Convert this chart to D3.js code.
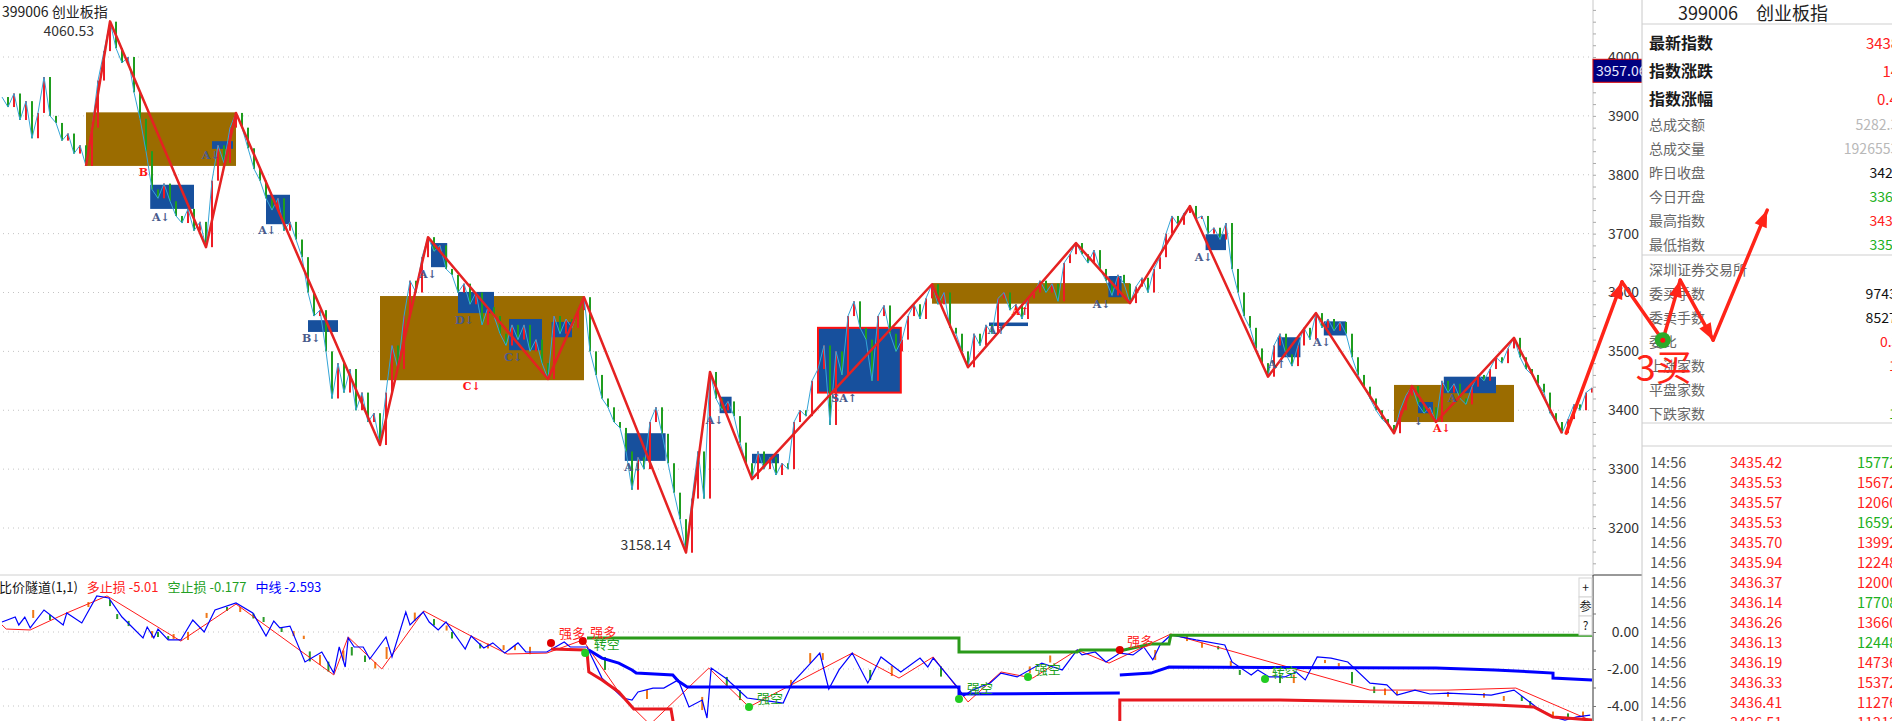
<!DOCTYPE html>
<html>
<head>
<meta charset="utf-8">
<script src="https://cdn.jsdelivr.net/npm/d3@7"></script>
<style>
  body { margin: 0; background: #fff; overflow: hidden; }
  svg { display: block; }
</style>
</head>
<body>
<svg id="chart"></svg>
<script>
const width = 1892, height = 721;
const axisX = 1593, panelX = 1642, mainBottom = 575;
const FONT = '"Noto Sans CJK SC", "Noto Sans", sans-serif';
const UP = '#ee1c25', DOWN = '#1f9d1f';

// ---- main chart data (one close per bar) ----
const closes = [
  3932,3915,3938,3893,3925,3862,3905,3966,3900,3888,3858,3870,3836,3850,3815,3880,3960,4010,4060,4015,
  3990,4000,3940,3895,3840,3775,3760,3785,3755,3730,3718,3742,3705,3720,3677,3790,3850,3820,3880,3905,
  3880,3845,3810,3790,3760,3740,3760,3705,3720,3690,3660,3600,3560,3570,3500,3420,3480,3430,3470,3400,
  3430,3380,3395,3341,3430,3510,3470,3560,3620,3600,3660,3694,3670,3680,3640,3630,3600,3615,3580,3600,
  3545,3575,3560,3530,3510,3545,3520,3545,3500,3520,3480,3453,3560,3530,3555,3540,3570,3592,3500,3460,
  3420,3405,3380,3370,3330,3265,3320,3300,3380,3405,3360,3310,3260,3215,3158,3250,3330,3250,3465,3420,
  3400,3415,3390,3345,3310,3283,3330,3300,3320,3290,3310,3300,3380,3400,3390,3450,3470,3510,3375,3500,
  3460,3560,3585,3540,3520,3450,3560,3578,3530,3500,3520,3560,3580,3555,3590,3614,3580,3600,3540,3530,
  3500,3473,3530,3510,3545,3530,3590,3600,3570,3580,3555,3590,3600,3620,3600,3615,3585,3650,3665,3684,
  3665,3650,3672,3640,3620,3595,3630,3615,3582,3610,3625,3600,3640,3660,3700,3730,3715,3735,3747,3725,
  3730,3700,3710,3690,3718,3640,3600,3560,3540,3505,3480,3457,3510,3530,3495,3475,3510,3540,3520,3565,
  3540,3555,3535,3550,3530,3490,3460,3440,3420,3400,3385,3375,3361,3400,3425,3441,3410,3395,3405,3380,
  3450,3430,3445,3420,3410,3440,3460,3450,3470,3490,3480,3505,3523,3490,3470,3460,3445,3430,3395,3380,
  3361,3385,3410,3400,3430,3438
];

// red zigzag pivots (bar index, price)
const zigIdx = [14,18,34,39,63,71,91,97,114,118,125,155,161,179,188,198,211,219,232,235,239,252,260];
const zigVal = [3815,4060.53,3677,3905,3341,3694,3453,3592,3158.14,3465,3283,3614,3473,3684,3582,3747,3457,3565,3361,3441,3380,3523,3361];

// brown zones
const zoneX0 = [14, 63, 155, 232];
const zoneX1 = [39, 97, 188, 252];
const zoneHi = [3906, 3594, 3616, 3443];
const zoneLo = [3815, 3451, 3581, 3380];

// blue boxes
const boxX0 = [24.7,35,44,51,71.5,76,84.5,91.6,103.8,119.6,125,136,164.5,184.4,200.6,212.6,220.3,236,240.3];
const boxX1 = [32,38.5,48,56,74.2,82,90,95,110.6,121.6,129.5,149.8,171,186.6,204,216.4,224,238.5,249];
const boxHi = [3783,3857,3766,3553,3684,3601,3555,3550,3361,3423,3326,3540,3549,3628,3699,3524,3551,3414,3457];
const boxLo = [3742,3844,3716,3533,3643,3565,3502,3524,3314,3395,3310,3430,3543,3592,3672,3490,3527,3395,3429];
const framedBox = 11;

// signal letters
const markIdx = [22.8,25,33.3,42.7,50,69.5,75.5,83.7,76.8,103.7,117.3,138.2,164.3,168.3,181.8,198.8,211,218.5,235.3,241,238.5];
const markVal = [3805,3728,3834,3706,3523,3631,3553,3490,3441,3304,3384,3421,3536,3569,3581,3660,3479,3516,3382,3421,3370];
const markText = ['B','A↓','A↓','A↓','B↓','A↓','D↓','C↓','C↓','A↓','A↓','SA↑','A↑','A↑','A↓','A↓','A↑','A↓','↓','A','A↓'];
const markRed = [1,0,0,0,0,0,0,0,1,0,0,0,0,1,0,0,0,0,0,0,1];

// hand drawn arrow (bar index, price)
const annoIdx = [260.7, 270, 276.8, 279.7, 285.2, 294.2];
const annoVal = [3361, 3618, 3519, 3621, 3519, 3740];

// ---- indicator data ----
const ratioIdx = [0,2.2,2.8,3.8,4.7,7,10.2,10.8,13.3,15.8,17.8,20,23.5,24.2,25.3,26,27.7,29.8,31.8,33.7,35.5,39,41.8,44,45.3,46.3,48,50.5,53.3,55.3,56.2,57.2,57.7,58.7,60.2,61.3,64,65,67.3,68,70.2,71.2,72.7,74,77.2,78.2,80.3,81.8,83.8,86,87.3,90.8,93.7,94.7,97.5,100,103.5,105,106,108.5,110.3,112.7,114.5,116.7,117.5,118.2,120.8,121.5,124.2,130.2,131.7,134.2,136.3,137.8,139.5,141.7,144.3,146.5,149.8,153,154.3,155.2,159.2,160.3,161.7,164.7,166.5,169.2,173.3,175.2,176.7,179.2,180,182.2,184,186.3,188.5,190.3,191.8,193,194.8,199,203.8,205,208.2,209.3,211.2,213.8,215.7,217.2,219.2,221.5,224.3,228,230.8,232.5,235.5,238,241,248.2,252,255.7,258.5,260.5,262.5,264.7];
const ratioVal = [0.54,0.81,0.38,0.81,0.22,1.19,0.38,1.03,0.49,1.95,1.84,0.81,-0.32,0.27,-0.32,0.16,-0.43,-0.43,0.65,0,1.19,1.57,1.03,-0.22,0.59,0.22,0.32,-1.62,-1.08,-2.22,-0.81,-1.89,-0.32,-0.81,-0.81,-1.46,-0.27,-1.35,1.08,0.38,1.08,0.54,0.11,0.54,-0.92,-0.22,-0.86,-0.59,-1.14,-0.59,-1.08,-1.08,-0.54,-0.81,-0.81,-2.49,-3.57,-3.68,-3.24,-3.03,-3.03,-2.59,-4.05,-3.68,-4.65,-1.95,-2.54,-2.76,-3.57,-3.84,-2.76,-1.89,-1.14,-3.08,-2.05,-1.14,-2.76,-1.35,-2.16,-1.41,-1.89,-1.41,-2.97,-3.46,-3.14,-2.76,-2.22,-2.43,-1.68,-1.89,-2.05,-0.97,-1.24,-1.08,-1.62,-1.14,-1.24,-0.81,-1.51,-0.70,-0.16,-0.43,-0.70,-1.62,-2.32,-2.05,-2.43,-2.43,-2.16,-2.59,-1.35,-1.41,-1.62,-2.76,-2.86,-3.41,-3.14,-3.35,-3.30,-3.41,-3.14,-4.05,-4.59,-4.76,-4.59,-4.49];

// small ratio candles (index, open, close)
const miniIdx = [5.2,8,14.4,18,19.2,21.1,25,26,27.7,28.6,31,34.1,37.5,39.7,41.9,43.6,46.6,48.6,50.3,51.3,53,54.4,56.9,58.3,60.5,62.2,64.1,68.8,72,74.1,75,79.7,81,83.6,85.5,88,100.5,107.5,116.7,120.8,123,131.5,134.7,136.8,144.7,148.3,156.5,171.3,174.7,192.2,197.5,200,202.7,204.8,206.3,213,215.3,220.5,222.8,225,228.7,230.5,232.5,241,247,250.3,253.3,254.7,258.5,261,263.5];
const miniOpen = [0.76,0.92,1.35,1.73,0.97,0.60,-0.30,0.0,-0.22,-0.38,-0.43,0.76,1.35,1.08,1.00,0.81,0.27,-0.22,-0.38,-1.05,-1.78,-1.60,-1.54,-0.81,-1.27,-1.97,-1.46,0.60,0.70,0.08,0.0,-0.62,-0.89,-0.98,-0.98,-1.2,-1.35,-3.62,-4.22,-2.43,-3.14,-2.97,-1.68,-1.51,-2.05,-2.38,-1.86,-2.22,-1.65,-1.51,-0.49,-0.85,-0.76,-1.84,-2.05,-2.30,-2.76,-1.68,-1.86,-2.16,-2.95,-3.41,-3.41,-3.5,-3.55,-3.73,-3.46,-3.73,-4.6,-4.4,-4.6];
const miniClose = [1.19,0.65,1.62,1.40,0.70,0.32,0.05,-0.27,-0.40,-0.11,0.0,1.03,1.14,1.35,0.73,0.54,0.0,0.05,-0.20,-1.59,-1.24,-2.14,-1.0,-1.27,-1.62,-1.62,-0.81,1.05,0.35,0.35,-0.35,-0.89,-0.62,-0.71,-0.71,-0.8,-2.05,-3.14,-3.51,-2.97,-3.68,-2.59,-1.14,-1.14,-2.59,-1.84,-2.41,-1.86,-1.27,-0.97,-0.11,-0.57,-0.94,-1.57,-2.32,-2.76,-2.30,-1.51,-1.68,-2.78,-3.3,-3.05,-3.2,-3.24,-3.3,-3.46,-3.73,-4.0,-4.3,-4.7,-4.3];

const pivIdx = [0,0.7,4.7,10.8,17.5,29.8,39,55.3,57.7,63.3,70.3,78.2,84.2,90.8,96.8,103.5,108,117.8,124.5,141.7,149.5,155.2,161,166.5,171.8,179.2,184.5,194.8,228,241,252.3,265];
const pivVal = [0.38,0.16,0.11,1.03,1.95,-0.49,1.51,-2.32,-0.27,-2.0,1.14,-0.22,-1.19,-1.14,-0.43,-3.57,-5.0,-1.95,-4.05,-1.14,-2.49,-1.35,-3.78,-2.16,-2.49,-0.97,-1.68,-0.11,-3.14,-3.14,-3.03,-4.81];

const longIdx = [91.5,97.2,97.5,97.8,100,102.8,105.3,111.5,112.7,186.3,186.3,213,239,248.8,255.3,258.5,265];
const longVal = [-0.92,-0.97,-1.08,-2.16,-2.59,-3.24,-4.16,-4.16,-6.5,-6.5,-3.68,-3.68,-3.84,-3.95,-4.05,-4.59,-4.76];

const shortIdx = [97.5,159.5,159.5,179.2,179.7,187,191.5,194.5,194.8,265];
const shortVal = [-0.32,-0.32,-1.08,-1.08,-0.97,-0.97,-0.65,-0.65,-0.177,-0.177];

const midIdx = [97.8,100,102.8,105,105.7,111.8,112.7,114.2,159.5,159.5,186.3,186.3,186.3,191.5,194.5,239,248.8,255.3,258.5,258.5,265];
const midVal = [-0.97,-1.41,-1.68,-2.05,-2.22,-2.32,-2.65,-2.97,-2.97,-3.35,-3.30,null,-2.32,-2.22,-1.89,-1.95,-2.05,-2.16,-2.22,-2.49,-2.593];

const dotIdx = [91.5,96.8,97.2,124.5,159.5,171,186.3,210.5];
const dotVal = [-0.59,-0.49,-1.14,-4.05,-3.62,-2.43,-0.97,-2.54];
const dotSide = ['多','多','空','空','空','空','多','空'];

const tagIdx = [95,100.2,100.8,128,163,174.3,189.7,213.8];
const tagVal = [-0.05,0,-0.65,-3.57,-3.03,-2.0,-0.49,-2.16];
const tagText = ['强多','强多','转空','强空','强空','强空','强多','转空'];

const legendText = ['比价隧道(1,1)', '多止损 -5.01', '空止损 -0.177', '中线 -2.593'];

// ---- quote panel data ----
const infoLabels = ['最新指数','指数涨跌','指数涨幅','总成交额','总成交量','昨日收盘','今日开盘','最高指数','最低指数'];
const infoValues = ['3438.51','14.26','0.42%','5282.36亿','19265538万','3424.25','3367.83','3438.86','3359.17'];
const infoKind = ['up','up','up','vol','vol','flat','down','up','down'];
const bookLabels = ['深圳证券交易所','委买手数','委卖手数','委比','上涨家数','平盘家数','下跌家数'];
const bookValues = ['','9743625','8527410','0.33%','1024','','1195'];
const bookKind = ['flat','flat','flat','up','up','flat','down'];
const tradeTimes = ['14:56','14:56','14:56','14:56','14:56','14:56','14:56','14:56','14:56','14:56','14:56','14:56','14:56','14:56'];
const tradePrices = ['3435.42','3435.53','3435.57','3435.53','3435.70','3435.94','3436.37','3436.14','3436.26','3436.13','3436.19','3436.33','3436.41','3436.51'];
const tradeVols = ['157724','156726','120608','165921','139920','122486','120003','177085','136602','124481','147363','153727','112764','112132'];
const tradeSide = ['S','B','B','S','B','B','B','S','B','S','B','B','B','B'];

// ---- scales ----
const x = d3.scaleLinear().domain([0, closes.length - 1]).range([2, 1592]);
const y = d3.scaleLinear().domain([3200, 4000]).range([528, 57]);
const yi = d3.scaleLinear().domain([-4, 0]).range([706, 632]);

const svg = d3.select('#chart')
  .attr('width', width)
  .attr('height', height)
  .attr('font-family', FONT);

const defs = svg.append('defs');
defs.append('clipPath').attr('id', 'clipMain')
  .append('rect').attr('x', 0).attr('y', 0).attr('width', axisX).attr('height', mainBottom);
defs.append('clipPath').attr('id', 'clipInd')
  .append('rect').attr('x', 0).attr('y', mainBottom + 1).attr('width', axisX).attr('height', height - mainBottom - 1);

// grid
svg.append('g').selectAll('line')
  .data(d3.range(3200, 4001, 100))
  .join('line')
  .attr('x1', 3).attr('x2', axisX)
  .attr('y1', d => y(d)).attr('y2', d => y(d))
  .attr('stroke', '#c4c4c4').attr('stroke-dasharray', '1,4');

svg.append('g').selectAll('line')
  .data([0, -2, -4])
  .join('line')
  .attr('x1', 3).attr('x2', axisX)
  .attr('y1', d => yi(d)).attr('y2', d => yi(d))
  .attr('stroke', '#c4c4c4').attr('stroke-dasharray', '1,4');

// ---- main panel ----
const main = svg.append('g').attr('clip-path', 'url(#clipMain)');

main.append('g').selectAll('rect')
  .data(zoneX0)
  .join('rect')
  .attr('x', (d, i) => x(d))
  .attr('width', (d, i) => x(zoneX1[i]) - x(d))
  .attr('y', (d, i) => y(zoneHi[i]))
  .attr('height', (d, i) => y(zoneLo[i]) - y(zoneHi[i]))
  .attr('fill', '#9b6c00');

main.append('g').selectAll('rect')
  .data(boxX0)
  .join('rect')
  .attr('x', (d, i) => x(d))
  .attr('width', (d, i) => x(boxX1[i]) - x(d))
  .attr('y', (d, i) => y(boxHi[i]))
  .attr('height', (d, i) => Math.max(3, y(boxLo[i]) - y(boxHi[i])))
  .attr('fill', '#17509d')
  .attr('stroke', (d, i) => i === framedBox ? '#ff1010' : 'none')
  .attr('stroke-width', 2);

// candles: open = previous close
main.append('g').selectAll('rect')
  .data(d3.range(1, closes.length))
  .join('rect')
  .attr('x', i => x(i) - 1)
  .attr('width', 2)
  .attr('y', i => y(Math.max(closes[i], closes[i - 1])))
  .attr('height', i => Math.max(1, Math.abs(y(closes[i]) - y(closes[i - 1]))))
  .attr('fill', i => closes[i] >= closes[i - 1] ? UP : DOWN);

main.append('path')
  .datum(closes)
  .attr('fill', 'none')
  .attr('stroke', '#35a5d8')
  .attr('stroke-width', 1)
  .attr('d', d3.line().x((d, i) => x(i)).y(d => y(d)));

main.append('path')
  .datum(zigIdx)
  .attr('fill', 'none')
  .attr('stroke', '#e52222')
  .attr('stroke-width', 2.5)
  .attr('stroke-linejoin', 'round')
  .attr('d', d3.line().x(d => x(d)).y((d, i) => y(zigVal[i])));

main.append('g').selectAll('text')
  .data(markText)
  .join('text')
  .attr('x', (d, i) => x(markIdx[i]))
  .attr('y', (d, i) => y(markVal[i]) + 4)
  .attr('font-family', '"DejaVu Serif", serif')
  .attr('font-weight', 'bold')
  .attr('font-size', 11)
  .attr('fill', (d, i) => markRed[i] ? '#ff1414' : '#4a5b8c')
  .text(d => d);

// high / low labels
const hiI = closes.indexOf(d3.max(closes));
const loI = closes.indexOf(d3.min(closes));
svg.append('text')
  .attr('x', x(hiI) - 16).attr('y', y(zigVal[1]) + 15)
  .attr('text-anchor', 'end').attr('font-size', 14).attr('fill', '#333')
  .text(zigVal[1].toFixed(2));
svg.append('text')
  .attr('x', x(loI) - 15).attr('y', y(zigVal[8]) - 3)
  .attr('text-anchor', 'end').attr('font-size', 14).attr('fill', '#333')
  .text(zigVal[8].toFixed(2));

svg.append('text')
  .attr('x', 2).attr('y', 17)
  .attr('font-size', 14).attr('fill', '#222')
  .text('399006 创业板指');

// ---- indicator panel ----
const ind = svg.append('g').attr('clip-path', 'url(#clipInd)');

ind.append('g').selectAll('rect')
  .data(miniIdx)
  .join('rect')
  .attr('x', d => x(d) - 1)
  .attr('width', 2)
  .attr('y', (d, i) => yi(Math.max(miniOpen[i], miniClose[i])))
  .attr('height', (d, i) => Math.max(1, Math.abs(yi(miniOpen[i]) - yi(miniClose[i]))))
  .attr('fill', (d, i) => miniClose[i] >= miniOpen[i] ? '#f07818' : '#2a9a2a');

ind.append('path')
  .datum(pivIdx)
  .attr('fill', 'none').attr('stroke', '#ff1a1a').attr('stroke-width', 1)
  .attr('d', d3.line().x(d => x(d)).y((d, i) => yi(pivVal[i])));

ind.append('path')
  .datum(ratioIdx)
  .attr('fill', 'none').attr('stroke', '#0000ff').attr('stroke-width', 1.2)
  .attr('d', d3.line().x(d => x(d)).y((d, i) => yi(ratioVal[i])));

const stepLine = (idx, vals, color) => ind.append('path')
  .datum(idx.map((d, i) => [d, vals[i]]))
  .attr('fill', 'none').attr('stroke', color).attr('stroke-width', 3)
  .attr('d', d3.line().defined(d => d[1] !== null).x(d => x(d[0])).y(d => yi(d[1])));

stepLine(shortIdx, shortVal, '#2a9a1a');
stepLine(midIdx, midVal, '#0000ff');
stepLine(longIdx, longVal, '#e8191f');

ind.append('g').selectAll('circle')
  .data(dotIdx)
  .join('circle')
  .attr('cx', d => x(d))
  .attr('cy', (d, i) => yi(dotVal[i]))
  .attr('r', 4)
  .attr('fill', (d, i) => dotSide[i] === '多' ? '#e00000' : '#22cc22');

ind.append('g').selectAll('text')
  .data(tagText)
  .join('text')
  .attr('x', (d, i) => x(tagIdx[i]))
  .attr('y', (d, i) => yi(tagVal[i]) + 5)
  .attr('text-anchor', 'middle')
  .attr('font-size', 13)
  .attr('fill', d => d === '强多' ? '#ff2020' : '#22a022')
  .text(d => d);

// legend
const legendColors = ['#111', '#ff2020', '#22a022', '#0000ff'];
let lx = -1;
legendText.forEach((t, i) => {
  const el = svg.append('text')
    .attr('x', lx).attr('y', 592)
    .attr('font-size', 13).attr('fill', legendColors[i])
    .text(t);
  lx += el.node().getComputedTextLength() + 9;
});

// separators and axis lines
svg.append('line').attr('x1', 0).attr('x2', axisX).attr('y1', mainBottom).attr('y2', mainBottom).attr('stroke', '#d0d0d0');
svg.append('line').attr('x1', axisX).attr('x2', panelX).attr('y1', mainBottom).attr('y2', mainBottom).attr('stroke', '#333');
svg.append('line').attr('x1', axisX).attr('x2', axisX).attr('y1', 0).attr('y2', mainBottom).attr('stroke', '#c8c8c8');
svg.append('line').attr('x1', axisX).attr('x2', axisX).attr('y1', mainBottom).attr('y2', height).attr('stroke', '#333');

// price axis
const yAxis = d3.axisRight(y)
  .tickValues(d3.range(3140, 4100, 20))
  .tickSize(3)
  .tickFormat(d => d % 100 === 0 ? d : '');
const gy = svg.append('g')
  .attr('transform', `translate(${axisX},0)`)
  .call(yAxis)
  .attr('font-family', FONT).attr('font-size', 14);
gy.select('.domain').remove();
gy.selectAll('line').attr('stroke', '#aaa');
gy.selectAll('text').attr('x', 46).attr('text-anchor', 'end').attr('fill', '#333');

const iAxis = d3.axisRight(yi)
  .tickValues([1, 0, -1, -2, -3, -4])
  .tickSize(3)
  .tickFormat(d => d % 2 === 0 ? d.toFixed(2) : '');
const gi = svg.append('g')
  .attr('transform', `translate(${axisX},0)`)
  .call(iAxis)
  .attr('font-family', FONT).attr('font-size', 14);
gi.select('.domain').remove();
gi.selectAll('line').attr('stroke', '#777');
gi.selectAll('text').attr('x', 46).attr('text-anchor', 'end').attr('fill', '#333');

// small buttons
['+', '参', '?'].forEach((t, i) => {
  svg.append('rect').attr('x', 1579).attr('y', 578 + i * 19).attr('width', 13).attr('height', 19)
    .attr('fill', '#fff').attr('stroke', '#d4d4d4');
  svg.append('text').attr('x', 1585.5).attr('y', 592 + i * 19)
    .attr('text-anchor', 'middle').attr('font-size', 12).attr('fill', '#222').text(t);
});

// last price tag
const lastTag = 3957.06;
svg.append('rect')
  .attr('x', axisX).attr('y', y(lastTag) - 23)
  .attr('width', panelX - axisX + 4).attr('height', 23)
  .attr('fill', '#000080').attr('stroke', '#e00000');
svg.append('text')
  .attr('x', axisX + 3).attr('y', y(lastTag) - 6)
  .attr('font-size', 14).attr('fill', '#e8e8ff')
  .text(lastTag.toFixed(2));

// ---- quote panel ----
const panel = svg.append('g');
panel.append('rect').attr('x', panelX).attr('y', 0).attr('width', width - panelX).attr('height', height).attr('fill', '#fff');
panel.append('line').attr('x1', panelX).attr('x2', panelX).attr('y1', 0).attr('y2', height).attr('stroke', '#c8c8c8');
[24, 255, 423, 446].forEach(yy => panel.append('line')
  .attr('x1', panelX).attr('x2', width).attr('y1', yy).attr('y2', yy).attr('stroke', '#cfcfcf'));

panel.append('text').attr('x', 1678).attr('y', 20)
  .attr('font-size', 18).attr('fill', '#222').text('399006　创业板指');

const kindColor = { up: '#ff2020', down: '#20b020', flat: '#111', vol: '#b8b8b8' };
const valueRight = 1920;
infoLabels.forEach((t, i) => {
  const big = i < 3;
  const yy = big ? 49 + i * 28 : 130 + (i - 3) * 24;
  panel.append('text').attr('x', 1649).attr('y', yy)
    .attr('font-size', big ? 16 : 14)
    .attr('font-weight', big ? 'bold' : 'normal')
    .attr('fill', big ? '#1a1a1a' : '#666').text(t);
  panel.append('text').attr('x', valueRight).attr('y', yy)
    .attr('text-anchor', 'end').attr('font-size', big ? 15 : 14)
    .attr('fill', kindColor[infoKind[i]]).text(infoValues[i]);
});

bookLabels.forEach((t, i) => {
  const yy = 275 + i * 24;
  panel.append('text').attr('x', 1649).attr('y', yy)
    .attr('font-size', 14).attr('fill', '#666').text(t);
  panel.append('text').attr('x', valueRight).attr('y', yy)
    .attr('text-anchor', 'end').attr('font-size', 14)
    .attr('fill', kindColor[bookKind[i]]).text(bookValues[i]);
});

const rowY = d3.scaleLinear().domain([0, 1]).range([468, 488]);
tradeTimes.forEach((t, i) => {
  const yy = rowY(i);
  panel.append('text').attr('x', 1650).attr('y', yy).attr('font-size', 14.5).attr('fill', '#555').text(t);
  panel.append('text').attr('x', 1730).attr('y', yy).attr('font-size', 14.5).attr('fill', '#ff2020').text(tradePrices[i]);
  panel.append('text').attr('x', 1857).attr('y', yy).attr('font-size', 14.5)
    .attr('fill', tradeSide[i] === 'S' ? '#20b020' : '#ff2020').text(tradeVols[i]);
});

// ---- hand drawn arrow on top ----
const pts = annoIdx.map((d, i) => [x(d), y(annoVal[i])]);
const anno = svg.append('g');
const RED = '#ff2418';
d3.pairs(pts).forEach(([a, b], k) => {
  anno.append('line')
    .attr('x1', a[0]).attr('y1', a[1]).attr('x2', b[0]).attr('y2', b[1])
    .attr('stroke', RED).attr('stroke-width', 3.5).attr('stroke-linecap', 'round');
  if (k !== 1) {
    const ang = Math.atan2(b[1] - a[1], b[0] - a[0]);
    const L = 17, Wd = 6.5;
    const bx = b[0] - L * Math.cos(ang), by = b[1] - L * Math.sin(ang);
    const px = -Math.sin(ang) * Wd, py = Math.cos(ang) * Wd;
    anno.append('path')
      .attr('d', `M${b[0]},${b[1]}L${bx + px},${by + py}L${bx - px},${by - py}Z`)
      .attr('fill', RED);
  }
});
anno.append('circle').attr('cx', pts[2][0]).attr('cy', pts[2][1]).attr('r', 8).attr('fill', '#2aaa2a');
anno.append('circle').attr('cx', pts[2][0]).attr('cy', pts[2][1]).attr('r', 2.5).attr('fill', '#ff1010');
anno.append('text')
  .attr('x', pts[2][0] - 27).attr('y', pts[2][1] + 41)
  .attr('font-size', 36).attr('fill', RED)
  .text('3买');
</script>
</body>
</html>
